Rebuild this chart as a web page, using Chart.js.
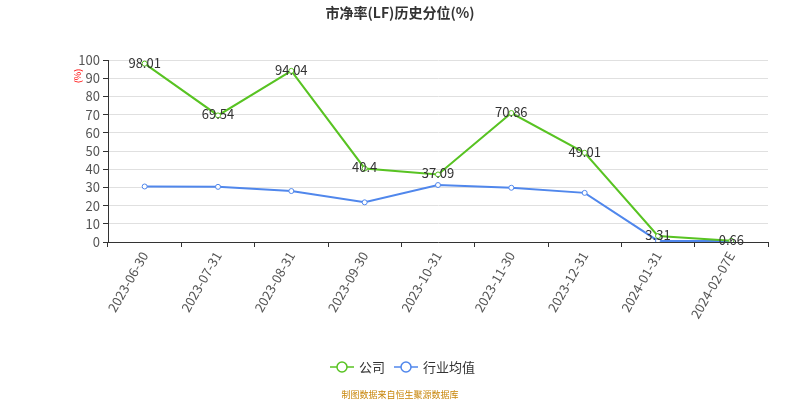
<!DOCTYPE html>
<html>
<head>
<meta charset="utf-8">
<script src="https://cdn.jsdelivr.net/npm/chart.js@4/dist/chart.umd.min.js"></script>
<style>
  html, body { margin: 0; padding: 0; background: #fff; }
  #wrap { width: 800px; height: 400px; position: relative; }
</style>
</head>
<body>
<div id="wrap"><canvas id="c" width="800" height="400"></canvas></div>
<script>
const categories = ['2023-06-30', '2023-07-31', '2023-08-31', '2023-09-30', '2023-10-31', '2023-11-30', '2023-12-31', '2024-01-31', '2024-02-07E'];
const companyValues = [98.01, 69.54, 94.04, 40.4, 37.09, 70.86, 49.01, 3.31, 0.66];
const industryValues = [30.5, 30.3, 28.0, 21.8, 31.3, 29.8, 27.0, 0.6, 0.5];
const yTicks = [0, 10, 20, 30, 40, 50, 60, 70, 80, 90, 100];

const GREEN = '#58c322';
const BLUE = '#5087ec';
const FONT = '"Noto Sans CJK SC", "Noto Sans", sans-serif';

// Value labels on the company series, title, unit, legend and source note
const decorations = {
  id: 'decorations',
  afterDatasetsDraw(chart) {
    const ctx = chart.ctx;
    const meta = chart.getDatasetMeta(0);
    ctx.save();
    ctx.font = '13px ' + FONT;
    ctx.fillStyle = '#333';
    ctx.textAlign = 'center';
    ctx.textBaseline = 'middle';
    meta.data.forEach((pt, i) => {
      ctx.fillText(String(companyValues[i]), pt.x, pt.y - 1);
    });
    ctx.restore();
  },
  afterDraw(chart) {
    const ctx = chart.ctx;
    ctx.save();
    // title
    ctx.font = 'bold 14px ' + FONT;
    ctx.fillStyle = '#333';
    ctx.textAlign = 'center';
    ctx.textBaseline = 'middle';
    ctx.fillText('市净率(LF)历史分位(%)', 400, 13);

    // unit label
    ctx.save();
    ctx.translate(78, 76);
    ctx.rotate(-Math.PI / 2);
    ctx.font = '9px ' + FONT;
    ctx.fillStyle = '#ff0000';
    ctx.fillText('(%)', 0, 0);
    ctx.restore();

    // legend
    const items = [
      { label: '公司', color: GREEN, x: 330 },
      { label: '行业均值', color: BLUE, x: 394 }
    ];
    const ly = 367;
    items.forEach(it => {
      ctx.strokeStyle = it.color;
      ctx.lineWidth = 1.5;
      ctx.beginPath();
      ctx.moveTo(it.x, ly);
      ctx.lineTo(it.x + 24, ly);
      ctx.stroke();
      ctx.beginPath();
      ctx.arc(it.x + 12, ly, 5, 0, Math.PI * 2);
      ctx.fillStyle = '#fff';
      ctx.fill();
      ctx.stroke();
      ctx.font = '13px ' + FONT;
      ctx.fillStyle = '#333';
      ctx.textAlign = 'left';
      ctx.fillText(it.label, it.x + 29, ly);
    });

    // source note
    ctx.font = '9px ' + FONT;
    ctx.fillStyle = '#c8860a';
    ctx.textAlign = 'center';
    ctx.fillText('制图数据来自恒生聚源数据库', 400, 395);
    ctx.restore();
  }
};

new Chart(document.getElementById('c'), {
  type: 'line',
  data: {
    labels: categories,
    datasets: [
      {
        label: '公司',
        data: companyValues,
        borderColor: GREEN,
        backgroundColor: '#fff',
        borderWidth: 2,
        pointRadius: 2.5,
        pointBorderWidth: 1,
        pointBackgroundColor: '#fff',
        pointBorderColor: GREEN,
        tension: 0
      },
      {
        label: '行业均值',
        data: industryValues,
        borderColor: BLUE,
        backgroundColor: '#fff',
        borderWidth: 2,
        pointRadius: 2.5,
        pointBorderWidth: 1,
        pointBackgroundColor: '#fff',
        pointBorderColor: BLUE,
        tension: 0
      }
    ]
  },
  options: {
    responsive: false,
    animation: false,
    devicePixelRatio: 1,
    layout: { padding: { top: 60, bottom: 58, left: 0, right: 32 } },
    plugins: {
      legend: { display: false },
      title: { display: false },
      tooltip: { enabled: false }
    },
    scales: {
      x: {
        offset: true,
        grid: {
          display: true,
          offset: true,
          drawOnChartArea: false,
          drawTicks: true,
          tickLength: 5,
          color: '#333'
        },
        border: { color: '#333', width: 1 },
        ticks: {
          autoSkip: false,
          maxRotation: 60,
          minRotation: 60,
          color: '#555',
          font: { size: 13, family: FONT },
          padding: 2
        },
        afterFit(scale) { scale.height = 100; }
      },
      y: {
        min: 0,
        max: 100,
        afterBuildTicks(scale) { scale.ticks = yTicks.map(v => ({ value: v })); },
        grid: {
          color: '#e0e0e0',
          lineWidth: 1,
          drawTicks: true,
          tickLength: 5,
          tickColor: '#333'
        },
        border: { color: '#333', width: 1 },
        ticks: {
          autoSkip: false,
          stepSize: 10,
          color: '#555',
          font: { size: 13, family: FONT },
          padding: 3
        },
        afterFit(scale) { scale.width = 108; }
      }
    }
  },
  plugins: [decorations]
});
</script>
</body>
</html>
